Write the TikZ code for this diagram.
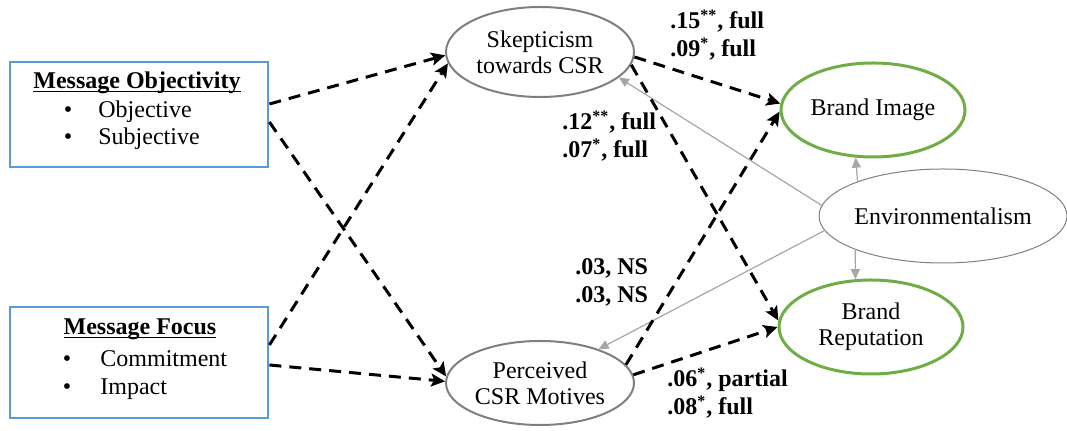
\documentclass[tikz,border=0pt]{standalone}
\usepackage{fontspec}
\setmainfont{Liberation Serif}
\usetikzlibrary{arrows.meta,shapes.geometric}
\definecolor{boxblue}{HTML}{5B9BD5}
\definecolor{constructgreen}{HTML}{70AD47}
\definecolor{ovalgray}{HTML}{7F7F7F}
\definecolor{linkgray}{HTML}{A6A6A6}
\begin{document}
\begin{tikzpicture}[x=0.5pt,y=-0.5pt,
  every node/.style={inner sep=0pt,font=\fontsize{12}{13}\selectfont},
  factorbox/.style={draw=boxblue,line width=1.4pt},
  mediator/.style={ellipse,draw=ovalgray,line width=1pt,align=center},
  outcome/.style={ellipse,draw=constructgreen,line width=1.5pt,align=center},
  moderator/.style={ellipse,draw=ovalgray,line width=0.5pt,inner xsep=-3pt},
  effect/.style={line width=1.5pt,dash pattern=on 6pt off 4pt,
    -{Stealth[length=7pt,width=6.5pt,inset=1.5pt]}},
  modlink/.style={draw=linkgray,line width=0.6pt,-{Triangle[length=5pt,width=4.5pt]}},
  coef/.style={font=\fontsize{12}{14}\selectfont\bfseries,anchor=base west},
  item/.style={anchor=base west}]
\useasboundingbox (0,0) rectangle (1067,431);

% manipulated message factors
\node[factorbox,minimum width=129pt,minimum height=52.5pt] (objbox) at (139,114.5) {};
\node[anchor=base] (objhead) at (137,89) {\bfseries\underline{\smash{Message Objectivity}}};
\node[anchor=base] (objb1) at (68,118) {\textbullet};
\node[item] (obj1) at (98,118) {Objective};
\node[anchor=base] (objb2) at (68,145) {\textbullet};
\node[item] (obj2) at (98,145) {Subjective};

\node[factorbox,minimum width=129pt,minimum height=55.5pt] (focbox) at (139,362.5) {};
\node[anchor=base] (fochead) at (140,335) {\bfseries\underline{\smash{Message Focus}}};
\node[anchor=base] (focb1) at (67,367) {\textbullet};
\node[item] (foc1) at (100,367) {Commitment};
\node[anchor=base] (focb2) at (67,395) {\textbullet};
\node[item] (foc2) at (100,395) {Impact};

% mediators
\node[mediator,minimum width=94pt,minimum height=45pt] (skep) at (540,52) {Skepticism\\towards CSR};
\node[mediator,minimum width=94pt,minimum height=42pt] (perc) at (540,383) {Perceived\\CSR Motives};

% outcomes and moderator
\node[outcome,minimum width=92pt,minimum height=47pt] (image) at (873,110) {Brand Image};
\node[outcome,minimum width=92pt,minimum height=47pt] (reput) at (871,327) {Brand\\Reputation};
\node[moderator,minimum width=124pt,minimum height=47pt] (env) at (943,216) {Environmentalism};

% moderation links
\draw[modlink] (env.175) -- (skep.-18);
\draw[modlink] (env.187) -- (perc.30);
\draw[modlink] (env.158.7) -- (image.250);
\draw[modlink] (env.201.3) -- (reput.108);

% hypothesised paths
\draw[effect] (objbox.east |- 268,104) -- (skep.182);
\draw[effect] (objbox.east |- 268,122) -- (perc.176);
\draw[effect] (focbox.east |- 268,345) -- (skep.187);
\draw[effect] (focbox.east |- 268,365) -- (perc.179);
\draw[effect] (skep.-3) -- (image.176);
\draw[effect] (skep.-8) -- (reput.176);
\draw[effect] (perc.12) -- (image.181);
\draw[effect] (perc.5) -- (reput.180);

% indirect effect estimates
\node[coef] (c1) at (670,29) {\begin{tabular}[t]{@{}l@{}}.15\textsuperscript{**}, full\\.09\textsuperscript{*}, full\end{tabular}};
\node[coef] (c2) at (562,130) {\begin{tabular}[t]{@{}l@{}}.12\textsuperscript{**}, full\\.07\textsuperscript{*}, full\end{tabular}};
\node[coef] (c3) at (575,275) {\begin{tabular}[t]{@{}l@{}}.03, NS\\.03, NS\end{tabular}};
\node[coef] (c4) at (667,387) {\begin{tabular}[t]{@{}l@{}}.06\textsuperscript{*}, partial\\.08\textsuperscript{*}, full\end{tabular}};
\end{tikzpicture}
\end{document}
